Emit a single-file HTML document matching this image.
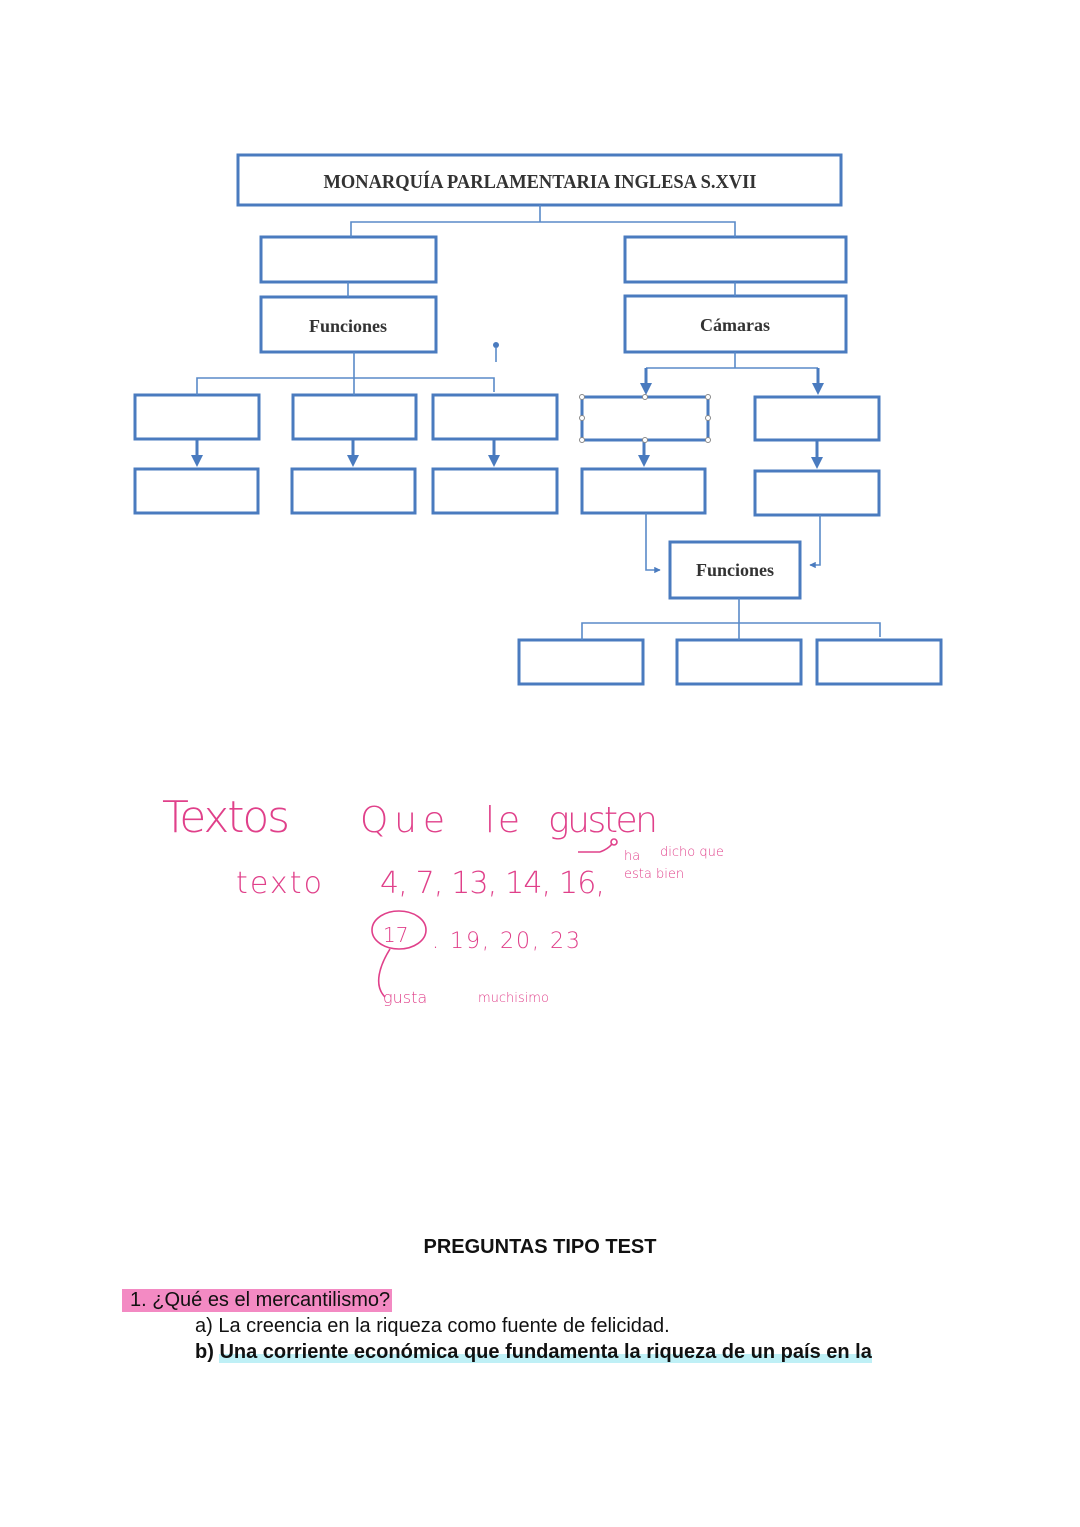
<!DOCTYPE html>
<html><head><meta charset="utf-8"><style>
html,body{margin:0;padding:0;background:#fff;width:1080px;height:1527px;overflow:hidden;position:relative}
svg{position:absolute;left:0;top:0}
.q{position:absolute;font-family:"Liberation Sans",sans-serif;font-size:20px;color:#111;white-space:nowrap}
</style></head><body>
<svg width="1080" height="1527" viewBox="0 0 1080 1527">
<defs><marker id="a" viewBox="0 0 10 10" refX="9" refY="5" markerWidth="4" markerHeight="4" orient="auto"><path d="M0,0L10,5L0,10z" fill="#4a7bbf"/></marker></defs>
<g fill="#fff" stroke="#4a7bbf" stroke-width="3">
<rect x="238" y="155" width="603" height="50"/>
<rect x="261" y="237" width="175" height="45"/>
<rect x="625" y="237" width="221" height="45"/>
<rect x="261" y="297" width="175" height="55"/>
<rect x="625" y="296" width="221" height="56"/>
<rect x="135" y="395" width="124" height="44"/>
<rect x="293" y="395" width="123" height="44"/>
<rect x="433" y="395" width="124" height="44"/>
<rect x="135" y="469" width="123" height="44"/>
<rect x="292" y="469" width="123" height="44"/>
<rect x="433" y="469" width="124" height="44"/>
<rect x="582" y="397" width="126" height="43"/>
<rect x="755" y="397" width="124" height="43"/>
<rect x="582" y="469" width="123" height="44"/>
<rect x="755" y="471" width="124" height="44"/>
<rect x="670" y="542" width="130" height="56"/>
<rect x="519" y="640" width="124" height="44"/>
<rect x="677" y="640" width="124" height="44"/>
<rect x="817" y="640" width="124" height="44"/>
</g>
<g fill="none" stroke="#5a8ac8" stroke-width="1.6">
<path d="M540 205V222M351 237V222H735V237"/>
<path d="M348 282V297M735 282V296"/>
<path d="M354 352V395M197 395V378H494V392"/>
<path d="M735 352V368M646 368H818"/>
<path d="M646 513V570H660" marker-end="url(#a)"/>
<path d="M820 515V565H810" marker-end="url(#a)"/>
<path d="M739 598V640M582 640V623H880V637"/>
<path d="M496 348V362"/>
</g>
<g fill="none" stroke="#4a7bbf" stroke-width="3">
<path d="M646 368V392M818 368V392M197 439V464M353 439V464M494 439V464M644 440V464M817 440V466"/>
</g>
<g fill="#4a7bbf">
<path d="M640 383l6 12 6-12zM812 383l6 12 6-12zM191 455l6 12 6-12zM347 455l6 12 6-12zM488 455l6 12 6-12zM638 455l6 12 6-12zM811 457l6 12 6-12z"/>
<circle cx="496" cy="345" r="3"/>
</g>
<g fill="#fff" stroke="#888" stroke-width="1"><circle cx="582" cy="397" r="2.5"/><circle cx="645" cy="397" r="2.5"/><circle cx="708" cy="397" r="2.5"/><circle cx="582" cy="418" r="2.5"/><circle cx="708" cy="418" r="2.5"/><circle cx="582" cy="440" r="2.5"/><circle cx="645" cy="440" r="2.5"/><circle cx="708" cy="440" r="2.5"/></g>
<g font-family="Liberation Serif,serif" font-weight="bold" fill="#333" text-anchor="middle">
<text x="540" y="188" font-size="20" textLength="433" lengthAdjust="spacingAndGlyphs">MONARQUÍA PARLAMENTARIA INGLESA S.XVII</text>
<text x="348" y="332" font-size="18">Funciones</text>
<text x="735" y="331" font-size="18">Cámaras</text>
<text x="735" y="576" font-size="18">Funciones</text>
</g>
<g font-family="DejaVu Sans,sans-serif" font-weight="200" fill="#e0408a">
<text x="162" y="832" font-size="44" textLength="128">Textos</text>
<text x="360" y="832" font-size="36" textLength="85">Que</text>
<text x="485" y="832" font-size="36" textLength="35">le</text>
<text x="548" y="832" font-size="36" textLength="110">gusten</text>
<text x="236" y="893" font-size="30" textLength="86">texto</text>
<text x="380" y="893" font-size="30" textLength="225">4, 7, 13, 14, 16,</text>
<text x="624" y="860" font-size="13">ha</text>
<text x="660" y="856" font-size="13">dicho que</text>
<text x="624" y="878" font-size="13">esta bien</text>
<text x="383" y="942" font-size="20">17</text>
<text x="432" y="948" font-size="22" textLength="148">. 19, 20, 23</text>
<text x="383" y="1003" font-size="16">gusta</text>
<text x="478" y="1002" font-size="13">muchisimo</text>
</g>
<g fill="none" stroke="#e0408a" stroke-width="1.6">
<ellipse cx="399" cy="930" rx="27" ry="19"/>
<path d="M390 949C380 965 373 985 385 997"/>
<path d="M578 852H600M600 852q8 -3 12 -8"/>
<circle cx="614" cy="842" r="3"/>
</g>
</svg>
<div class="q" style="left:0;width:1080px;text-align:center;top:1236px;font-weight:bold">PREGUNTAS TIPO TEST</div>
<div class="q" style="left:122px;top:1289px;background:#f38ac3;padding:0 2px 0 8px">1. ¿Qué es el mercantilismo?</div>
<div class="q" style="left:195px;top:1315px">a) La creencia en la riqueza como fuente de felicidad.</div>
<div class="q" style="left:195px;top:1341px;font-weight:bold">b) <span style="background:linear-gradient(to bottom,transparent 60%,#bff0f6 60%)">Una corriente económica que fundamenta la riqueza de un país en la</span></div>
</body></html>
